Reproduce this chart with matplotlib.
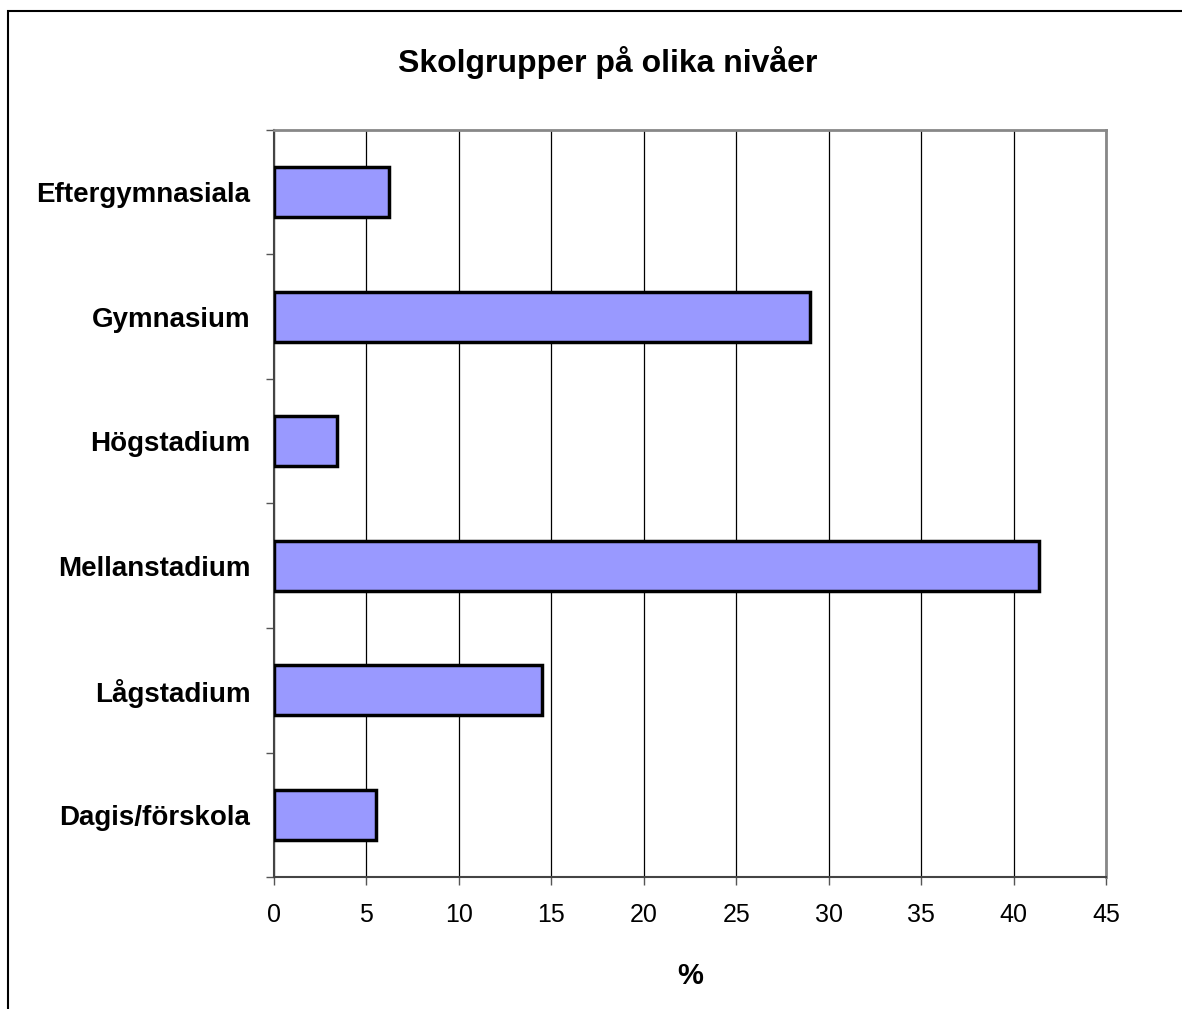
import matplotlib.pyplot as plt
from matplotlib.patches import Rectangle

plt.rcParams['font.family'] = ['Liberation Sans', 'DejaVu Sans']

categories = ['Dagis/förskola', 'Lågstadium', 'Mellanstadium', 'Högstadium', 'Gymnasium', 'Eftergymnasiala']
values = [5.5, 14.5, 41.4, 3.4, 29.0, 6.2]
xticks = [0, 5, 10, 15, 20, 25, 30, 35, 40, 45]

fig = plt.figure(figsize=(11.82, 10.09), dpi=100)
ax = fig.add_axes([0.2318, 0.1308, 0.7039, 0.7404])

pos = range(len(categories))
ax.barh(pos, values, height=0.4, color='#9999ff', edgecolor='black', linewidth=2.5, zorder=3)

ax.set_xlim(0, 45)
ax.set_ylim(-0.5, len(categories) - 0.5)
ax.set_xticks(xticks)
ax.set_xticklabels([str(t) for t in xticks], fontsize=18)
ax.xaxis.grid(True, color='black', linewidth=0.9, zorder=0)
ax.tick_params(axis='x', length=6, width=1, color='#555555', pad=13)

# category labels between boundary ticks
ax.set_yticks([p - 0.5 for p in pos] + [len(categories) - 0.5])
ax.set_yticklabels([])
ax.set_yticks(list(pos), minor=True)
ax.set_yticklabels(categories, minor=True, fontsize=20, fontweight='bold')
ax.tick_params(axis='y', which='major', length=6, width=1, color='#555555')
ax.tick_params(axis='y', which='minor', length=0, pad=17)

for s in ['left', 'bottom']:
    ax.spines[s].set_color('#444444')
    ax.spines[s].set_linewidth(1.5)
for s in ['top', 'right']:
    ax.spines[s].set_color('#888888')
    ax.spines[s].set_linewidth(2)

ax.set_xlabel('%', fontsize=21, fontweight='bold', labelpad=25)
fig.text(0.5143, 0.938, 'Skolgrupper på olika nivåer', ha='center', va='center',
         fontsize=23, fontweight='bold')

# outer chart frame, only left and top edges are inside the picture
fig.patches.append(Rectangle((8 / 1182, -0.05), 1.1, 1.05 - 11 / 1009,
                             transform=fig.transFigure, fill=False,
                             edgecolor='black', linewidth=1.5))

fig.savefig('out.png', dpi=100)
